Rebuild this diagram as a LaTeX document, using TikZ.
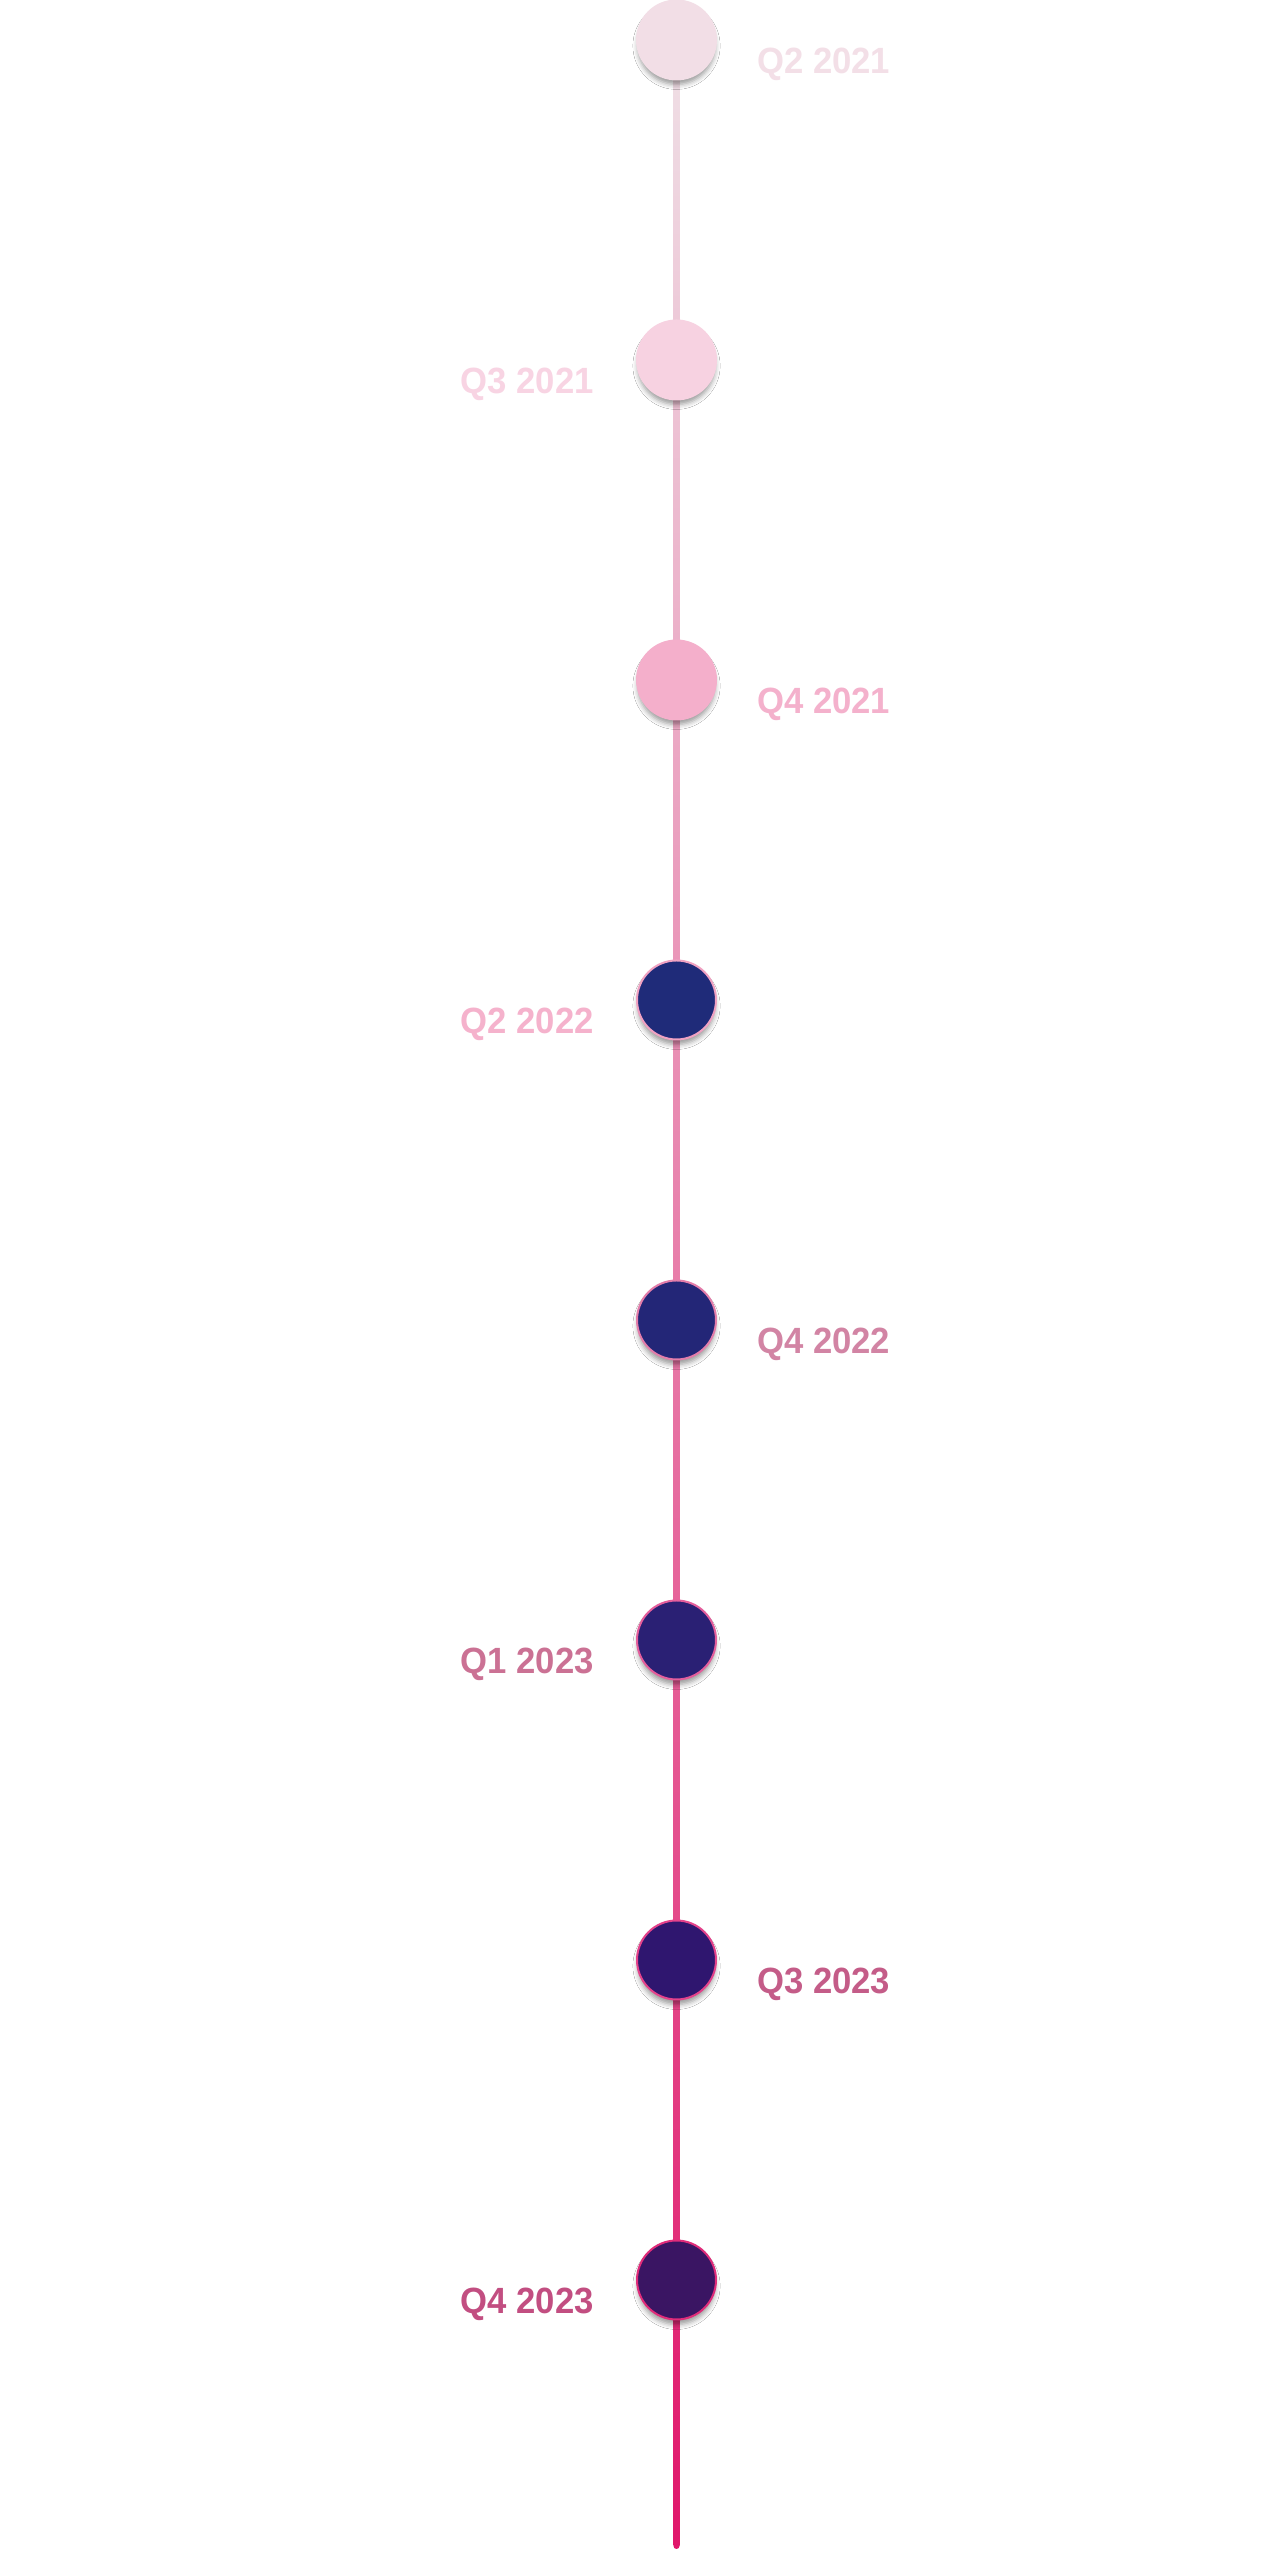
\documentclass[tikz,border=0pt]{standalone}
\usepackage{fontspec}
\setmainfont[FakeStretch=0.95]{Liberation Sans}
\usetikzlibrary{shadows.blur}
\definecolor{lnTop}{HTML}{EFE0E6}
\definecolor{lnBot}{HTML}{E0176B}
\definecolor{f1}{HTML}{F2DEE6}
\definecolor{f2}{HTML}{F7D2E1}
\definecolor{f3}{HTML}{F4AFCB}
\definecolor{f4}{HTML}{1F2B79}
\definecolor{f5}{HTML}{232677}
\definecolor{f6}{HTML}{2A2074}
\definecolor{f7}{HTML}{2F166F}
\definecolor{f8}{HTML}{3A1563}
\definecolor{s4}{HTML}{F0A2C2}
\definecolor{s5}{HTML}{E37DAA}
\definecolor{s6}{HTML}{E45E9C}
\definecolor{s7}{HTML}{E4428B}
\definecolor{s8}{HTML}{E02C7A}
\definecolor{t1}{HTML}{F3DFE7}
\definecolor{t2}{HTML}{F8D4E3}
\definecolor{t3}{HTML}{F4B1CC}
\definecolor{t4}{HTML}{F5B2CC}
\definecolor{t5}{HTML}{D284A4}
\definecolor{t6}{HTML}{CB7194}
\definecolor{t7}{HTML}{C45C88}
\definecolor{t8}{HTML}{C24E81}
\tikzset{
  dot/.style={circle, minimum size=79pt, inner sep=0pt, line width=2pt,
    blur shadow={shadow xshift=0pt, shadow yshift=-6pt, shadow blur radius=5pt, shadow scale=0.98, shadow opacity=40}},
  lbl/.style={font=\fontsize{36.5}{40}\selectfont\bfseries, inner sep=0pt},
  rlbl/.style={lbl, anchor=base west},
  llbl/.style={lbl, anchor=base east}
}
\begin{document}
\begin{tikzpicture}[x=1pt,y=1pt]
\useasboundingbox (0,0) rectangle (1266,2550);
\fill[white] (0,0) rectangle (1266,2550);
\coordinate (c0) at (676.5,2510);
\coordinate (cend) at (676.5,4);
\shade[top color=lnTop, bottom color=lnBot] ([xshift=-3pt]c0) rectangle ([xshift=3pt]cend);
\fill[lnBot] (cend) circle (3pt);
\node[dot, fill=f1, draw=f1] (c1) at (676.5,2510) {};
\node[dot, fill=f2, draw=f2] (c2) at (676.5,2190) {};
\node[dot, fill=f3, draw=f3] (c3) at (676.5,1870) {};
\node[dot, fill=f4, draw=s4] (c4) at (676.5,1550) {};
\node[dot, fill=f5, draw=s5] (c5) at (676.5,1230) {};
\node[dot, fill=f6, draw=s6] (c6) at (676.5,910) {};
\node[dot, fill=f7, draw=s7] (c7) at (676.5,590) {};
\node[dot, fill=f8, draw=s8] (c8) at (676.5,270) {};
\node[rlbl, text=t1] (l1) at (757,2476) {Q2 2021};
\node[llbl, text=t2] (l2) at (594,2156) {Q3 2021};
\node[rlbl, text=t3] (l3) at (757,1836) {Q4 2021};
\node[llbl, text=t4] (l4) at (594,1516) {Q2 2022};
\node[rlbl, text=t5] (l5) at (757,1196) {Q4 2022};
\node[llbl, text=t6] (l6) at (594,876) {Q1 2023};
\node[rlbl, text=t7] (l7) at (757,556) {Q3 2023};
\node[llbl, text=t8] (l8) at (594,236) {Q4 2023};
\end{tikzpicture}
\end{document}
